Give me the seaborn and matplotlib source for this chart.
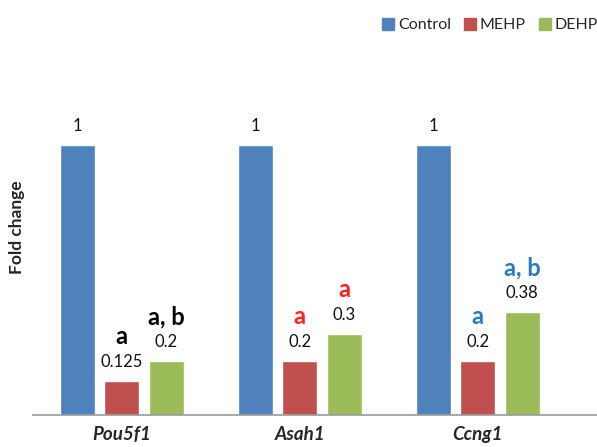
import numpy as np
import pandas as pd
import matplotlib
matplotlib.use("Agg")
import matplotlib.pyplot as plt
import seaborn as sns

# fold change values
genes = ["Pou5f1", "Asah1", "Ccng1"]
groups = ["Control", "MEHP", "DEHP"]
control = [1, 1, 1]
mehp = [0.125, 0.2, 0.2]
dehp = [0.2, 0.3, 0.38]
value_labels = {
    "Control": ["1", "1", "1"],
    "MEHP": ["0.125", "0.2", "0.2"],
    "DEHP": ["0.2", "0.3", "0.38"],
}
# significance letters (MEHP, DEHP) per gene
sig_mehp = ["a", "a", "a"]
sig_dehp = ["a, b", "a", "a, b"]
sig_colors = ["#000000", "#FF2020", "#2A78C4"]

palette = {"Control": "#4F81BD", "MEHP": "#C0504D", "DEHP": "#9BBB59"}

df = pd.DataFrame({
    "gene": genes * 3,
    "group": ["Control"] * 3 + ["MEHP"] * 3 + ["DEHP"] * 3,
    "fold": control + mehp + dehp,
})

sns.set_style("white")
plt.rcParams["font.family"] = ["Lato", "DejaVu Sans"]

fig = plt.figure(figsize=(5.97, 4.47), dpi=100)
ax = fig.add_axes([0.055, 0.0716, 0.945, 0.839])

sns.barplot(data=df, x="gene", y="fold", hue="group", order=genes,
            hue_order=groups, palette=palette, width=0.75, gap=0.21,
            saturation=1, ax=ax, legend=False, errorbar=None)

ax.set_xlim(-0.5, 2.67)
ax.set_ylim(0, 1.389)

# value labels above bars
for container, grp in zip(ax.containers, groups):
    for bar, txt in zip(container, value_labels[grp]):
        cx = bar.get_x() + bar.get_width() / 2
        ax.annotate(txt, (cx, bar.get_height()), xytext=(0, 14),
                    textcoords="offset points", ha="center", va="center",
                    fontsize=12, color="#111111")

# significance letters
for container, letters in zip(ax.containers[1:], [sig_mehp, sig_dehp]):
    for i, (bar, txt) in enumerate(zip(container, letters)):
        cx = bar.get_x() + bar.get_width() / 2
        ax.annotate(txt, (cx, bar.get_height()), xytext=(0, 32),
                    textcoords="offset points", ha="center", va="center",
                    fontsize=17, fontweight="bold", color=sig_colors[i])

for s in ["top", "right", "left"]:
    ax.spines[s].set_visible(False)
ax.spines["bottom"].set_color("#999999")
ax.spines["bottom"].set_linewidth(1.2)
ax.set_yticks([])
ax.set_xlabel("")
ax.set_ylabel("Fold change", fontsize=12.5, fontweight="bold", labelpad=6)
ax.tick_params(axis="x", length=0, pad=8)
for lab in ax.get_xticklabels():
    lab.set_fontsize(13.5)
    lab.set_fontweight("bold")
    lab.set_fontstyle("italic")

handles = [plt.Rectangle((0, 0), 1, 1, color=palette[g]) for g in groups]
fig.legend(handles, groups, loc="center left", bbox_to_anchor=(0.616, 0.944),
           ncol=3, frameon=False, fontsize=11.5, handlelength=0.75,
           handleheight=0.75, handletextpad=0.25, columnspacing=0.8)

fig.savefig("out.png", dpi=100)
